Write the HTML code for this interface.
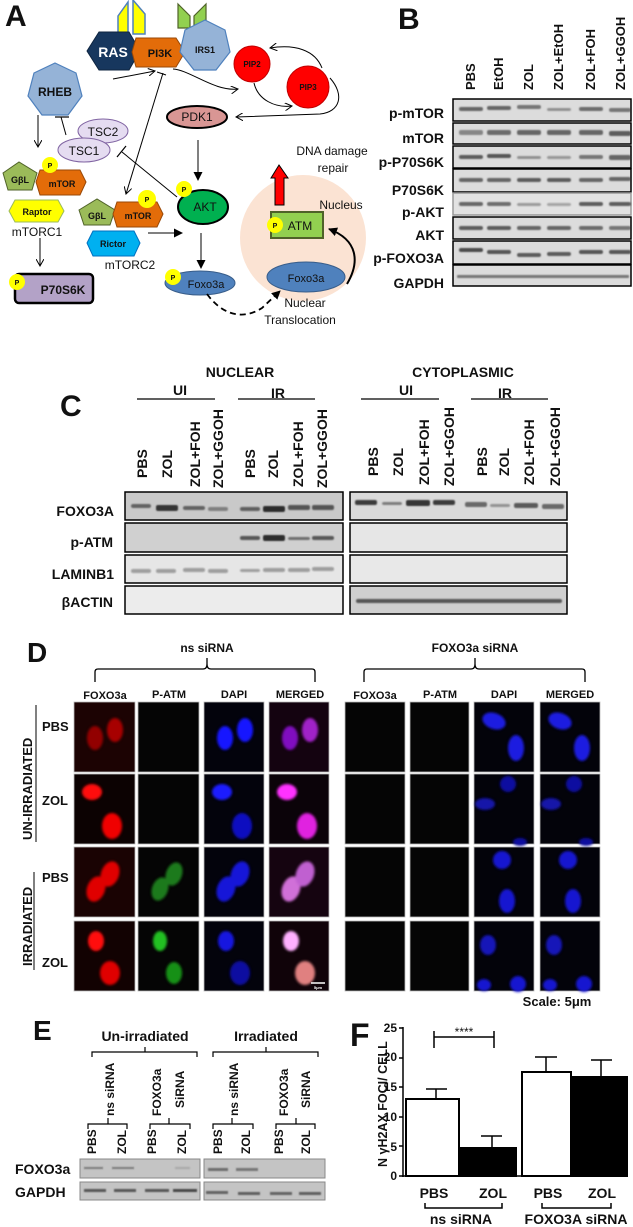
<!DOCTYPE html>
<html><head><meta charset="utf-8"><style>
html,body{margin:0;padding:0;background:#fff}
svg{display:block}
text{font-family:"Liberation Sans",sans-serif;font-weight:bold;fill:#111}
</style></head><body>
<svg width="633" height="1227" viewBox="0 0 633 1227" xmlns="http://www.w3.org/2000/svg">
<defs>
<marker id="ah" markerWidth="8" markerHeight="8" refX="7" refY="4" orient="auto" markerUnits="userSpaceOnUse"><path d="M0,0 L7,4 L0,8" fill="none" stroke="#000" stroke-width="1"/></marker>
<marker id="af" markerWidth="9" markerHeight="9" refX="8" refY="4.5" orient="auto" markerUnits="userSpaceOnUse"><path d="M0,0 L9,4.5 L0,9z" fill="#000"/></marker>
<filter id="bl" x="-50%" y="-50%" width="200%" height="200%"><feGaussianBlur stdDeviation="1.4"/></filter>
<filter id="bb" x="-20%" y="-100%" width="140%" height="300%"><feGaussianBlur stdDeviation="0.9"/></filter>
</defs>

<!-- ================= PANEL A ================= -->
<text x="5" y="26" font-size="30">A</text>
<!-- receptors -->
<polygon points="118,16 128,2 128,34 118,34" fill="#ffff00" stroke="#4f81bd" stroke-width="1.5"/>
<polygon points="133,0 145,14 145,34 133,34" fill="#ffff00" stroke="#4f81bd" stroke-width="1.5"/>
<polygon points="178,4 190,16 190,28 178,28" fill="#92d050" stroke="#4f6228" stroke-width="1.2"/>
<polygon points="206,4 194,16 194,28 206,28" fill="#92d050" stroke="#4f6228" stroke-width="1.2"/>
<!-- RAS -->
<polygon points="87,51 99,32 129,32 140,51 129,70 99,70" fill="#17375e" stroke="#0f2540"/>
<text x="113" y="57" font-size="14" fill="#fff" text-anchor="middle" style="fill:#fff">RAS</text>
<!-- PI3K -->
<polygon points="136,38 176,38 185,52 176,67 136,67 132,52" fill="#e36c09" stroke="#984807"/>
<text x="160" y="57" font-size="11" text-anchor="middle" fill="#222">PI3K</text>
<!-- IRS1 heptagon -->
<polygon points="205,20 225,30 230,52 216,70 194,70 180,52 185,30" fill="#95b3d7" stroke="#4f81bd" stroke-width="1.2"/>
<text x="205" y="53" font-size="9" text-anchor="middle" fill="#17375e">IRS1</text>
<!-- PIP -->
<circle cx="252" cy="64" r="18" fill="#ff0000" stroke="#c00000"/>
<text x="252" y="67" font-size="8" text-anchor="middle" fill="#400">PIP2</text>
<circle cx="308" cy="87" r="21" fill="#ff0000" stroke="#c00000"/>
<text x="308" y="90" font-size="8" text-anchor="middle" fill="#400">PIP3</text>
<path d="M322,68 C315,50 295,44 270,48" fill="none" stroke="#000" stroke-width="1" marker-end="url(#ah)"/>
<path d="M254,83 C258,100 275,108 292,106" fill="none" stroke="#000" stroke-width="1" marker-end="url(#ah)"/>
<path d="M330,78 C345,95 340,112 320,114 L236,117" fill="none" stroke="#000" stroke-width="1" marker-end="url(#ah)"/>
<!-- PI3K arrows -->
<path d="M113,79 L155,71" fill="none" stroke="#000" stroke-width="1" marker-end="url(#ah)"/>
<path d="M173,69 C190,70 215,92 238,89" fill="none" stroke="#000" stroke-width="1" marker-end="url(#ah)"/>
<line x1="163" y1="73" x2="126" y2="194" stroke="#000" stroke-width="1" marker-end="url(#ah)"/>
<line x1="157" y1="72" x2="166" y2="75" stroke="#000" stroke-width="1"/>
<!-- RHEB -->
<polygon points="55,63 76,73 82,96 68,115 42,115 28,96 34,73" fill="#95b3d7" stroke="#4f81bd" stroke-width="1.2"/>
<text x="55" y="96" font-size="12" text-anchor="middle" fill="#17375e">RHEB</text>
<line x1="38" y1="115" x2="38" y2="147" stroke="#000" stroke-width="1" marker-end="url(#ah)"/>
<line x1="66" y1="135" x2="61" y2="117" stroke="#000" stroke-width="1"/>
<line x1="55" y1="117" x2="69" y2="117" stroke="#000" stroke-width="1.2"/>
<!-- TSC -->
<ellipse cx="103" cy="131" rx="25" ry="12" fill="#e5dcf1" stroke="#8064a2"/>
<text x="103" y="136" font-size="12" text-anchor="middle" fill="#222" style="font-weight:normal">TSC2</text>
<ellipse cx="84" cy="150" rx="26" ry="12" fill="#e5dcf1" stroke="#8064a2"/>
<text x="84" y="155" font-size="12" text-anchor="middle" fill="#222" style="font-weight:normal">TSC1</text>
<line x1="177" y1="197" x2="122" y2="152" stroke="#000" stroke-width="1"/>
<line x1="117" y1="157" x2="126" y2="146" stroke="#000" stroke-width="1.2"/>
<!-- mTORC1 -->
<polygon points="3,173 19,162 37,173 32,190 8,190" fill="#9bbb59" stroke="#4f6228"/>
<text x="20" y="183" font-size="9" text-anchor="middle">GβL</text>
<polygon points="40,170 80,170 86,182 80,195 40,195 36,182" fill="#e36c09" stroke="#984807"/>
<text x="62" y="187" font-size="9" text-anchor="middle" fill="#222">mTOR</text>
<circle cx="50" cy="165" r="8" fill="#ffff00"/>
<text x="50" y="168" font-size="7" text-anchor="middle">P</text>
<polygon points="15,200 58,200 64,211 58,222 15,222 9,211" fill="#ffff00" stroke="#9bbb59"/>
<text x="37" y="215" font-size="9" text-anchor="middle">Raptor</text>
<text x="37" y="236" font-size="12" text-anchor="middle" style="font-weight:normal">mTORC1</text>
<line x1="40" y1="238" x2="40" y2="266" stroke="#000" stroke-width="1" marker-end="url(#ah)"/>
<rect x="15" y="274" width="78" height="29" rx="4" fill="#b3a2c7" stroke="#000" stroke-width="2.5"/>
<text x="63" y="294" font-size="12" text-anchor="middle" fill="#222">P70S6K</text>
<circle cx="17" cy="282" r="8" fill="#ffff00"/>
<text x="17" y="285" font-size="7" text-anchor="middle">P</text>
<!-- mTORC2 -->
<polygon points="79,210 97,199 115,210 110,225 84,225" fill="#9bbb59" stroke="#4f6228"/>
<text x="97" y="219" font-size="9" text-anchor="middle">GβL</text>
<polygon points="117,202 157,202 163,214 157,227 117,227 113,214" fill="#e36c09" stroke="#984807"/>
<text x="138" y="219" font-size="9" text-anchor="middle" fill="#222">mTOR</text>
<circle cx="147" cy="199" r="9" fill="#ffff00"/>
<text x="147" y="202" font-size="7" text-anchor="middle">P</text>
<polygon points="93,231 134,231 140,243 134,256 93,256 87,243" fill="#00b0f0" stroke="#0070c0"/>
<text x="113" y="247" font-size="9" text-anchor="middle" fill="#17375e">Rictor</text>
<text x="130" y="269" font-size="12" text-anchor="middle" style="font-weight:normal">mTORC2</text>
<line x1="148" y1="233" x2="182" y2="233" stroke="#000" stroke-width="1" marker-end="url(#af)"/>
<!-- PDK1 / AKT / Foxo -->
<ellipse cx="197" cy="117" rx="30" ry="11" fill="#d99694" stroke="#000" stroke-width="2"/>
<text x="197" y="121" font-size="12" text-anchor="middle" style="font-weight:normal">PDK1</text>
<line x1="198" y1="140" x2="198" y2="180" stroke="#000" stroke-width="1" marker-end="url(#af)"/>
<ellipse cx="203" cy="207" rx="25" ry="17" fill="#00b050" stroke="#000" stroke-width="2"/>
<text x="205" y="211" font-size="12" text-anchor="middle" style="font-weight:normal">AKT</text>
<circle cx="184" cy="189" r="8" fill="#ffff00"/>
<text x="184" y="192" font-size="7" text-anchor="middle">P</text>
<line x1="201" y1="233" x2="201" y2="268" stroke="#000" stroke-width="1" marker-end="url(#af)"/>
<ellipse cx="200" cy="283" rx="35" ry="12" fill="#4f81bd" stroke="#385d8a"/>
<text x="206" y="288" font-size="11" text-anchor="middle" style="font-weight:normal">Foxo3a</text>
<circle cx="173" cy="277" r="8" fill="#ffff00"/>
<text x="173" y="280" font-size="7" text-anchor="middle">P</text>
<!-- Nucleus -->
<circle cx="303" cy="238" r="63" fill="#fbe3d3"/>
<polygon points="275,205 284,205 284,178 288,178 279,165 271,178 275,178" fill="#ff0000" stroke="#000" stroke-width="1"/>
<text x="332" y="155" font-size="12" text-anchor="middle" style="font-weight:normal">DNA damage</text>
<text x="333" y="172" font-size="12" text-anchor="middle" style="font-weight:normal">repair</text>
<text x="341" y="209" font-size="12" text-anchor="middle" style="font-weight:normal">Nucleus</text>
<rect x="271" y="212" width="52" height="26" fill="#92d050" stroke="#4f6228" stroke-width="2"/>
<text x="300" y="230" font-size="12" text-anchor="middle" style="font-weight:normal">ATM</text>
<circle cx="275" cy="225" r="8" fill="#ffff00"/>
<text x="275" y="228" font-size="7" text-anchor="middle">P</text>
<ellipse cx="306" cy="277" rx="39" ry="15" fill="#4f81bd" stroke="#385d8a"/>
<text x="306" y="282" font-size="11" text-anchor="middle" style="font-weight:normal">Foxo3a</text>
<path d="M347,284 C360,262 358,240 329,229" fill="none" stroke="#000" stroke-width="2" marker-end="url(#af)"/>
<path d="M207,294 C220,312 240,322 262,308 L280,291" fill="none" stroke="#000" stroke-width="1.8" stroke-dasharray="6,4" marker-end="url(#af)"/>
<text x="305" y="307" font-size="12" text-anchor="middle" style="font-weight:normal">Nuclear</text>
<text x="300" y="324" font-size="12" text-anchor="middle" style="font-weight:normal">Translocation</text>

<!-- ================= PANEL B ================= -->
<text x="398" y="29" font-size="30">B</text>
<g font-size="13">
<text transform="translate(475,90) rotate(-90)">PBS</text>
<text transform="translate(503,90) rotate(-90)">EtOH</text>
<text transform="translate(533,90) rotate(-90)">ZOL</text>
<text transform="translate(563,90) rotate(-90)">ZOL+EtOH</text>
<text transform="translate(595,90) rotate(-90)">ZOL+FOH</text>
<text transform="translate(625,90) rotate(-90)">ZOL+GGOH</text>
</g>
<g font-size="14" text-anchor="end">
<text x="444" y="118">p-mTOR</text>
<text x="444" y="143">mTOR</text>
<text x="444" y="167">p-P70S6K</text>
<text x="444" y="195">P70S6K</text>
<text x="444" y="217">p-AKT</text>
<text x="444" y="240">AKT</text>
<text x="444" y="263">p-FOXO3A</text>
<text x="444" y="288">GAPDH</text>
</g>
<g stroke="#000" stroke-width="1.5" fill="#dcdcdc">
<rect x="453" y="99" width="178" height="22"/>
<rect x="453" y="123" width="178" height="21"/>
<rect x="453" y="146" width="178" height="22"/>
<rect x="453" y="169" width="178" height="23"/>
<rect x="453" y="193" width="178" height="22" stroke="#999" fill="#e2e2e2"/>
<rect x="453" y="217" width="178" height="22"/>
<rect x="453" y="241" width="178" height="23"/>
<rect x="453" y="265" width="178" height="21"/>
</g>
<g fill="#333" filter="url(#bb)">
<!-- p-mTOR -->
<rect x="459" y="107" width="24" height="4" rx="2" opacity=".7"/><rect x="487" y="106" width="24" height="4" rx="2" opacity=".7"/><rect x="517" y="105" width="24" height="4" rx="2" opacity=".6"/><rect x="547" y="108" width="24" height="3" rx="2" opacity=".45"/><rect x="579" y="107" width="24" height="4" rx="2" opacity=".65"/><rect x="609" y="108" width="22" height="4" rx="2" opacity=".6"/>
<!-- mTOR -->
<rect x="459" y="130" width="24" height="5" rx="2" opacity=".5"/><rect x="487" y="130" width="24" height="5" rx="2" opacity=".65"/><rect x="517" y="130" width="24" height="5" rx="2" opacity=".7"/><rect x="547" y="130" width="24" height="5" rx="2" opacity=".7"/><rect x="579" y="130" width="24" height="5" rx="2" opacity=".7"/><rect x="609" y="131" width="22" height="5" rx="2" opacity=".75"/>
<!-- p-P70 -->
<rect x="459" y="155" width="24" height="4" rx="2" opacity=".75"/><rect x="487" y="154" width="24" height="4" rx="2" opacity=".8"/><rect x="517" y="156" width="24" height="3" rx="2" opacity=".45"/><rect x="547" y="156" width="24" height="3" rx="2" opacity=".4"/><rect x="579" y="155" width="24" height="4" rx="2" opacity=".6"/><rect x="609" y="155" width="22" height="5" rx="2" opacity=".7"/>
<!-- P70 -->
<rect x="459" y="178" width="24" height="4" rx="2" opacity=".7"/><rect x="487" y="178" width="24" height="4" rx="2" opacity=".7"/><rect x="517" y="178" width="24" height="4" rx="2" opacity=".75"/><rect x="547" y="178" width="24" height="4" rx="2" opacity=".75"/><rect x="579" y="178" width="24" height="4" rx="2" opacity=".7"/><rect x="609" y="177" width="22" height="4" rx="2" opacity=".7"/>
<!-- p-AKT -->
<rect x="459" y="202" width="24" height="4" rx="2" opacity=".7"/><rect x="487" y="202" width="24" height="4" rx="2" opacity=".65"/><rect x="517" y="203" width="24" height="3" rx="2" opacity=".4"/><rect x="547" y="203" width="24" height="3" rx="2" opacity=".35"/><rect x="579" y="202" width="24" height="4" rx="2" opacity=".75"/><rect x="609" y="202" width="22" height="4" rx="2" opacity=".75"/>
<!-- AKT -->
<rect x="459" y="226" width="24" height="4" rx="2" opacity=".75"/><rect x="487" y="226" width="24" height="4" rx="2" opacity=".75"/><rect x="517" y="226" width="24" height="4" rx="2" opacity=".7"/><rect x="547" y="226" width="24" height="4" rx="2" opacity=".7"/><rect x="579" y="226" width="24" height="4" rx="2" opacity=".65"/><rect x="609" y="226" width="22" height="4" rx="2" opacity=".6"/>
<!-- p-FOXO -->
<rect x="459" y="248" width="24" height="4" rx="2" opacity=".85"/><rect x="487" y="250" width="24" height="4" rx="2" opacity=".8"/><rect x="517" y="253" width="24" height="4" rx="2" opacity=".75"/><rect x="547" y="252" width="24" height="4" rx="2" opacity=".75"/><rect x="579" y="250" width="24" height="4" rx="2" opacity=".8"/><rect x="609" y="250" width="22" height="4" rx="2" opacity=".8"/>
<!-- GAPDH -->
<rect x="457" y="275" width="172" height="3" rx="1" opacity=".6"/>
</g>

<!-- ================= PANEL C ================= -->
<text x="60" y="416" font-size="30">C</text>
<g font-size="14" text-anchor="middle">
<text x="240" y="377">NUCLEAR</text>
<text x="463" y="377">CYTOPLASMIC</text>
<text x="180" y="395">UI</text><text x="278" y="398">IR</text>
<text x="406" y="395">UI</text><text x="505" y="398">IR</text>
</g>
<g stroke="#000" stroke-width="1.2">
<line x1="137" y1="399" x2="215" y2="399"/><line x1="238" y1="399" x2="315" y2="399"/>
<line x1="361" y1="399" x2="439" y2="399"/><line x1="471" y1="399" x2="548" y2="399"/>
</g>
<g font-size="14">
<text transform="translate(147,478) rotate(-90)">PBS</text>
<text transform="translate(172,478) rotate(-90)">ZOL</text>
<text transform="translate(200,487) rotate(-90)">ZOL+FOH</text>
<text transform="translate(223,488) rotate(-90)">ZOL+GGOH</text>
<text transform="translate(255,478) rotate(-90)">PBS</text>
<text transform="translate(278,478) rotate(-90)">ZOL</text>
<text transform="translate(303,487) rotate(-90)">ZOL+FOH</text>
<text transform="translate(327,488) rotate(-90)">ZOL+GGOH</text>
<text transform="translate(378,476) rotate(-90)">PBS</text>
<text transform="translate(403,476) rotate(-90)">ZOL</text>
<text transform="translate(429,485) rotate(-90)">ZOL+FOH</text>
<text transform="translate(454,486) rotate(-90)">ZOL+GGOH</text>
<text transform="translate(487,476) rotate(-90)">PBS</text>
<text transform="translate(509,476) rotate(-90)">ZOL</text>
<text transform="translate(534,485) rotate(-90)">ZOL+FOH</text>
<text transform="translate(560,486) rotate(-90)">ZOL+GGOH</text>
</g>
<g font-size="14" text-anchor="end">
<text x="114" y="516">FOXO3A</text>
<text x="113" y="547">p-ATM</text>
<text x="114" y="579">LAMINB1</text>
<text x="113" y="607">βACTIN</text>
</g>
<g stroke="#000" stroke-width="1.5">
<rect x="125" y="492" width="218" height="28" fill="#c9c9c9"/>
<rect x="125" y="523" width="218" height="29" fill="#d0d0d0"/>
<rect x="125" y="555" width="218" height="28" fill="#e6e6e6"/>
<rect x="125" y="586" width="218" height="28" fill="#ececec"/>
<rect x="350" y="492" width="217" height="28" fill="#dadada"/>
<rect x="350" y="523" width="217" height="29" fill="#e6e6e6"/>
<rect x="350" y="555" width="217" height="28" fill="#e8e8e8"/>
<rect x="350" y="586" width="217" height="28" fill="#cfcfcf"/>
</g>
<g fill="#222" filter="url(#bb)">
<rect x="131" y="504" width="20" height="4" rx="2" opacity=".6"/><rect x="156" y="505" width="22" height="6" rx="2" opacity=".9"/><rect x="183" y="506" width="22" height="4" rx="2" opacity=".6"/><rect x="208" y="507" width="20" height="4" rx="2" opacity=".45"/><rect x="240" y="507" width="20" height="4" rx="2" opacity=".65"/><rect x="263" y="506" width="22" height="6" rx="2" opacity=".95"/><rect x="288" y="505" width="22" height="5" rx="2" opacity=".7"/><rect x="312" y="505" width="22" height="5" rx="2" opacity=".7"/>
<rect x="240" y="536" width="20" height="4" rx="2" opacity=".7"/><rect x="263" y="535" width="22" height="6" rx="2" opacity=".95"/><rect x="288" y="537" width="22" height="3" rx="2" opacity=".55"/><rect x="312" y="536" width="22" height="4" rx="2" opacity=".7"/>
<rect x="131" y="569" width="20" height="4" rx="2" opacity=".35"/><rect x="156" y="569" width="20" height="4" rx="2" opacity=".35"/><rect x="183" y="568" width="22" height="4" rx="2" opacity=".35"/><rect x="208" y="569" width="20" height="4" rx="2" opacity=".35"/><rect x="240" y="569" width="20" height="3" rx="2" opacity=".35"/><rect x="263" y="568" width="22" height="4" rx="2" opacity=".35"/><rect x="288" y="568" width="22" height="4" rx="2" opacity=".35"/><rect x="312" y="567" width="22" height="4" rx="2" opacity=".35"/>
<rect x="355" y="500" width="22" height="5" rx="2" opacity=".85"/><rect x="382" y="502" width="20" height="3" rx="2" opacity=".5"/><rect x="406" y="500" width="24" height="6" rx="2" opacity=".9"/><rect x="433" y="500" width="22" height="5" rx="2" opacity=".85"/><rect x="465" y="502" width="22" height="5" rx="2" opacity=".6"/><rect x="490" y="504" width="20" height="3" rx="2" opacity=".4"/><rect x="514" y="503" width="24" height="5" rx="2" opacity=".7"/><rect x="542" y="504" width="22" height="5" rx="2" opacity=".6"/>
<rect x="356" y="599" width="206" height="4" rx="2" opacity=".7"/>
</g>

<!-- ================= PANEL D ================= -->
<text x="27" y="662" font-size="28">D</text>
<g font-size="12" text-anchor="middle">
<text x="207" y="652">ns siRNA</text>
<text x="475" y="652">FOXO3a siRNA</text>
</g>
<g fill="none" stroke="#000" stroke-width="1.3">
<path d="M95,682 L95,672 Q95,669 98,669 L203,669 Q207,669 207,664 L207,658 L207,664 Q207,669 211,669 L312,669 Q315,669 315,672 L315,682"/>
<path d="M364,682 L364,672 Q364,669 367,669 L471,669 Q475,669 475,664 L475,658 L475,664 Q475,669 479,669 L582,669 Q585,669 585,672 L585,682"/>
</g>
<g font-size="11" text-anchor="middle">
<text x="105" y="699">FOXO3a</text><text x="169" y="698">P-ATM</text><text x="234" y="698">DAPI</text><text x="300" y="698">MERGED</text>
<text x="375" y="699">FOXO3a</text><text x="440" y="698">P-ATM</text><text x="504" y="698">DAPI</text><text x="570" y="698">MERGED</text>
</g>
<g font-size="13">
<text transform="translate(32,840) rotate(-90)">UN-IRRADIATED</text>
<text transform="translate(32,966) rotate(-90)">IRRADIATED</text>
<text x="42" y="731">PBS</text><text x="42" y="805">ZOL</text>
<text x="42" y="882">PBS</text><text x="42" y="967">ZOL</text>
</g>
<line x1="36" y1="705" x2="36" y2="842" stroke="#000" stroke-width="1"/>
<line x1="34" y1="872" x2="34" y2="970" stroke="#000" stroke-width="1"/>
<!-- tiles: background -->
<g fill="#050505" stroke="#bbb" stroke-width=".8">
<rect x="74" y="702" width="61" height="70" fill="#1c0303"/><rect x="138" y="702" width="61" height="70"/><rect x="204" y="702" width="60" height="70" fill="#03030c"/><rect x="269" y="702" width="60" height="70" fill="#140310"/>
<rect x="74" y="774" width="61" height="70" fill="#0c0202"/><rect x="138" y="774" width="61" height="70"/><rect x="204" y="774" width="60" height="70" fill="#03030c"/><rect x="269" y="774" width="60" height="70" fill="#0b0309"/>
<rect x="74" y="847" width="61" height="70" fill="#1a0303"/><rect x="138" y="847" width="61" height="70"/><rect x="204" y="847" width="60" height="70" fill="#03030c"/><rect x="269" y="847" width="60" height="70" fill="#150410"/>
<rect x="74" y="921" width="61" height="70" fill="#120202"/><rect x="138" y="921" width="61" height="70"/><rect x="204" y="921" width="60" height="70" fill="#03030c"/><rect x="269" y="921" width="60" height="70" fill="#100309"/>
<rect x="345" y="702" width="60" height="70"/><rect x="410" y="702" width="59" height="70"/><rect x="474" y="702" width="60" height="70" fill="#03030a"/><rect x="540" y="702" width="60" height="70" fill="#03030a"/>
<rect x="345" y="774" width="60" height="70"/><rect x="410" y="774" width="59" height="70"/><rect x="474" y="774" width="60" height="70" fill="#03030a"/><rect x="540" y="774" width="60" height="70" fill="#03030a"/>
<rect x="345" y="847" width="60" height="70"/><rect x="410" y="847" width="59" height="70"/><rect x="474" y="847" width="60" height="70" fill="#03030a"/><rect x="540" y="847" width="60" height="70" fill="#03030a"/>
<rect x="345" y="921" width="60" height="70"/><rect x="410" y="921" width="59" height="70"/><rect x="474" y="921" width="60" height="70" fill="#03030a"/><rect x="540" y="921" width="60" height="70" fill="#03030a"/>
</g>
<g filter="url(#bl)">
<!-- row1 ns -->
<ellipse cx="95" cy="738" rx="8" ry="12" fill="#b00000" opacity=".8"/><ellipse cx="115" cy="730" rx="8" ry="12" fill="#c00000" opacity=".85"/>
<ellipse cx="225" cy="738" rx="8" ry="12" fill="#1818ff"/><ellipse cx="245" cy="730" rx="8" ry="12" fill="#1818ff"/>
<ellipse cx="290" cy="738" rx="8" ry="12" fill="#8010c0"/><ellipse cx="310" cy="730" rx="8" ry="12" fill="#a020c8"/>
<!-- row2 ns -->
<ellipse cx="92" cy="792" rx="10" ry="8" fill="#ff1010"/><ellipse cx="112" cy="826" rx="10" ry="13" fill="#f00000"/>
<ellipse cx="222" cy="792" rx="10" ry="8" fill="#1a1aff"/><ellipse cx="242" cy="826" rx="10" ry="13" fill="#1010c0"/>
<ellipse cx="287" cy="792" rx="10" ry="8" fill="#ff30ff"/><ellipse cx="307" cy="826" rx="10" ry="13" fill="#e020e0"/>
<!-- row3 ns -->
<ellipse cx="96" cy="889" rx="9" ry="13" fill="#e00000" transform="rotate(20 96 889)"/><ellipse cx="110" cy="874" rx="9" ry="13" fill="#e00000" transform="rotate(20 110 874)"/>
<ellipse cx="160" cy="889" rx="8" ry="12" fill="#1a7a1a" transform="rotate(20 160 889)"/><ellipse cx="174" cy="874" rx="8" ry="12" fill="#1a7a1a" transform="rotate(20 174 874)"/>
<ellipse cx="226" cy="889" rx="9" ry="13" fill="#1414d8" transform="rotate(20 226 889)"/><ellipse cx="240" cy="874" rx="9" ry="13" fill="#1414d8" transform="rotate(20 240 874)"/>
<ellipse cx="291" cy="889" rx="9" ry="13" fill="#d070d8" transform="rotate(20 291 889)"/><ellipse cx="305" cy="874" rx="9" ry="13" fill="#c060d0" transform="rotate(20 305 874)"/>
<!-- row4 ns -->
<ellipse cx="96" cy="941" rx="8" ry="10" fill="#ff1010"/><ellipse cx="110" cy="973" rx="10" ry="12" fill="#e00000"/>
<ellipse cx="160" cy="941" rx="7" ry="10" fill="#20c020"/><ellipse cx="174" cy="973" rx="8" ry="11" fill="#189018"/>
<ellipse cx="226" cy="941" rx="8" ry="10" fill="#1818e0"/><ellipse cx="240" cy="973" rx="10" ry="12" fill="#0c0ca0"/>
<ellipse cx="291" cy="941" rx="8" ry="10" fill="#ffb0ff"/><ellipse cx="305" cy="973" rx="10" ry="12" fill="#e08080"/>
<!-- FOXO3a siRNA DAPI/merged -->
<ellipse cx="494" cy="721" rx="12" ry="8" fill="#1a1ae0" transform="rotate(20 494 721)"/><ellipse cx="516" cy="748" rx="8" ry="13" fill="#1a1ae0"/>
<ellipse cx="560" cy="721" rx="12" ry="8" fill="#1a1ae0" transform="rotate(20 560 721)"/><ellipse cx="582" cy="748" rx="8" ry="13" fill="#1a1ae0"/>
<ellipse cx="508" cy="784" rx="8" ry="8" fill="#1010a0"/><ellipse cx="485" cy="804" rx="10" ry="6" fill="#1212a8"/><ellipse cx="520" cy="842" rx="7" ry="4" fill="#1010a0"/>
<ellipse cx="574" cy="784" rx="8" ry="8" fill="#1010a0"/><ellipse cx="551" cy="804" rx="10" ry="6" fill="#1212a8"/><ellipse cx="586" cy="842" rx="7" ry="4" fill="#1010a0"/>
<ellipse cx="502" cy="860" rx="9" ry="9" fill="#1818d0"/><ellipse cx="507" cy="901" rx="8" ry="12" fill="#1818d0"/>
<ellipse cx="568" cy="860" rx="9" ry="9" fill="#1818d0"/><ellipse cx="573" cy="901" rx="8" ry="12" fill="#1818d0"/>
<ellipse cx="488" cy="945" rx="8" ry="10" fill="#1414b8"/><ellipse cx="484" cy="985" rx="7" ry="6" fill="#1818d0"/><ellipse cx="518" cy="984" rx="8" ry="8" fill="#1818d0"/>
<ellipse cx="554" cy="945" rx="8" ry="10" fill="#1414b8"/><ellipse cx="550" cy="985" rx="7" ry="6" fill="#1818d0"/><ellipse cx="584" cy="984" rx="8" ry="8" fill="#1818d0"/>
</g>
<line x1="311" y1="983" x2="325" y2="983" stroke="#fff" stroke-width="1.5"/>
<text x="318" y="989" font-size="4" text-anchor="middle" style="fill:#fff">5μm</text>
<text x="557" y="1006" font-size="13" text-anchor="middle">Scale: 5μm</text>

<!-- ================= PANEL E ================= -->
<text x="33" y="1040" font-size="28">E</text>
<g font-size="14" text-anchor="middle">
<text x="145" y="1041">Un-irradiated</text>
<text x="266" y="1041">Irradiated</text>
</g>
<g fill="none" stroke="#000" stroke-width="1.2">
<path d="M92,1057 L92,1052 L145,1052 L145,1047 L145,1052 L197,1052 L197,1057"/>
<path d="M213,1057 L213,1052 L266,1052 L266,1047 L266,1052 L318,1052 L318,1057"/>
<path d="M88,1129 L88,1124 L108,1124 L108,1118 L108,1124 L127,1124 L127,1129"/>
<path d="M150,1129 L150,1124 L169,1124 L169,1118 L169,1124 L190,1124 L190,1129"/>
<path d="M213,1129 L213,1124 L232,1124 L232,1118 L232,1124 L253,1124 L253,1129"/>
<path d="M276,1129 L276,1124 L296,1124 L296,1118 L296,1124 L315,1124 L315,1129"/>
</g>
<g font-size="12">
<text transform="translate(114,1116) rotate(-90)">ns siRNA</text>
<text transform="translate(161,1116) rotate(-90)">FOXO3a</text>
<text transform="translate(184,1108) rotate(-90)">SiRNA</text>
<text transform="translate(238,1116) rotate(-90)">ns siRNA</text>
<text transform="translate(288,1116) rotate(-90)">FOXO3a</text>
<text transform="translate(310,1108) rotate(-90)">SiRNA</text>
<text transform="translate(96,1154) rotate(-90)">PBS</text>
<text transform="translate(126,1154) rotate(-90)">ZOL</text>
<text transform="translate(156,1154) rotate(-90)">PBS</text>
<text transform="translate(186,1154) rotate(-90)">ZOL</text>
<text transform="translate(222,1154) rotate(-90)">PBS</text>
<text transform="translate(250,1154) rotate(-90)">ZOL</text>
<text transform="translate(283,1154) rotate(-90)">PBS</text>
<text transform="translate(310,1154) rotate(-90)">ZOL</text>
</g>
<text x="15" y="1174" font-size="14">FOXO3a</text>
<text x="15" y="1197" font-size="14">GAPDH</text>
<g stroke="#888" stroke-width="1" fill="#c4c4c4">
<rect x="80" y="1159" width="120" height="19"/><rect x="80" y="1182" width="120" height="18"/>
<rect x="204" y="1159" width="121" height="19"/><rect x="204" y="1182" width="121" height="18"/>
</g>
<g fill="#333" filter="url(#bb)">
<rect x="84" y="1167" width="19" height="2" opacity=".5"/><rect x="112" y="1167" width="22" height="2" opacity=".5"/><rect x="175" y="1167" width="15" height="2" opacity=".2"/>
<rect x="208" y="1168" width="20" height="3" opacity=".6"/><rect x="236" y="1168" width="22" height="3" opacity=".55"/>
<rect x="84" y="1189" width="22" height="3" opacity=".75"/><rect x="114" y="1189" width="22" height="3" opacity=".75"/><rect x="145" y="1189" width="24" height="3" opacity=".75"/><rect x="173" y="1189" width="24" height="3" opacity=".85"/>
<rect x="206" y="1191" width="22" height="3" opacity=".65"/><rect x="238" y="1192" width="22" height="3" opacity=".7"/><rect x="270" y="1192" width="22" height="3" opacity=".65"/><rect x="299" y="1192" width="22" height="3" opacity=".7"/>
</g>

<!-- ================= PANEL F ================= -->
<text x="350" y="1046" font-size="32">F</text>
<text transform="translate(387,1167) rotate(-90)" font-size="12.5">N γH2AX FOCI/ CELL</text>
<g font-size="12" text-anchor="end">
<text x="397" y="1032">25</text><text x="397" y="1061">20</text><text x="397" y="1091">15</text>
<text x="397" y="1121">10</text><text x="397" y="1151">5</text><text x="397" y="1180">0</text>
</g>
<g stroke="#000" stroke-width="1.5" fill="none">
<line x1="403" y1="1027" x2="403" y2="1177"/>
<line x1="402" y1="1176" x2="628" y2="1176"/>
<line x1="399" y1="1028" x2="403" y2="1028"/><line x1="399" y1="1058" x2="403" y2="1058"/><line x1="399" y1="1087" x2="403" y2="1087"/>
<line x1="399" y1="1117" x2="403" y2="1117"/><line x1="399" y1="1146" x2="403" y2="1146"/><line x1="399" y1="1176" x2="403" y2="1176"/>
<!-- error bars -->
<line x1="436" y1="1099" x2="436" y2="1089"/><line x1="426" y1="1089" x2="447" y2="1089"/>
<line x1="492" y1="1148" x2="492" y2="1136"/><line x1="481" y1="1136" x2="502" y2="1136"/>
<line x1="546" y1="1072" x2="546" y2="1057"/><line x1="535" y1="1057" x2="557" y2="1057"/>
<line x1="601" y1="1077" x2="601" y2="1060"/><line x1="591" y1="1060" x2="612" y2="1060"/>
<!-- significance -->
<line x1="434" y1="1037" x2="494" y2="1037"/><line x1="434" y1="1031" x2="434" y2="1048"/><line x1="494" y1="1031" x2="494" y2="1048"/>
</g>
<rect x="406" y="1099" width="53" height="77" fill="#fff" stroke="#000" stroke-width="2"/>
<rect x="461" y="1148" width="55" height="28" fill="#000" stroke="#000" stroke-width="2"/>
<rect x="522" y="1072" width="49" height="104" fill="#fff" stroke="#000" stroke-width="2"/>
<rect x="573" y="1077" width="54" height="99" fill="#000" stroke="#000" stroke-width="2"/>
<text x="464" y="1036" font-size="12" text-anchor="middle" style="font-weight:normal">****</text>
<g font-size="14" text-anchor="middle">
<text x="434" y="1198">PBS</text><text x="493" y="1198">ZOL</text>
<text x="548" y="1198">PBS</text><text x="602" y="1198">ZOL</text>
<text x="461" y="1224">ns siRNA</text><text x="576" y="1224">FOXO3A siRNA</text>
</g>
<g fill="none" stroke="#000" stroke-width="1.5">
<path d="M425,1203 L425,1208 L502,1208 L502,1203"/>
<path d="M542,1203 L542,1208 L611,1208 L611,1203"/>
</g>
</svg>
</body></html>
